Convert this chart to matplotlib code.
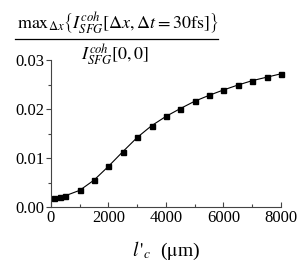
import matplotlib
matplotlib.use("Agg")
import matplotlib.pyplot as plt
from matplotlib.lines import Line2D
from matplotlib.ticker import MultipleLocator

plt.rcParams['font.family'] = ['Liberation Serif', 'DejaVu Serif']
plt.rcParams['mathtext.fontset'] = 'stix'

# coherence length l_c' (um) and normalised max SFG signal
lc = [100, 300, 500, 1000, 1500, 2000, 2500, 3000, 3500, 4000,
      4500, 5000, 5500, 6000, 6500, 7000, 7500, 8000]
ratio = [0.0018, 0.0020, 0.0023, 0.0034, 0.0055, 0.0083, 0.0113, 0.0142, 0.0166,
         0.0185, 0.0201, 0.0216, 0.0228, 0.0239, 0.0249, 0.0258, 0.0265, 0.0272]

fig = plt.figure(figsize=(3.07, 2.72), dpi=100)
ax = fig.add_axes([0.166, 0.239, 0.749, 0.54])

ax.plot(lc, ratio, color='black', lw=0.8, marker='s', ms=3.6,
        mec='black', mfc='black', clip_on=False)

ax.set_xlim(0, 8000)
ax.set_ylim(0, 0.03)
ax.xaxis.set_major_locator(MultipleLocator(2000))
ax.xaxis.set_minor_locator(MultipleLocator(1000))
ax.yaxis.set_major_locator(MultipleLocator(0.01))
ax.yaxis.set_minor_locator(MultipleLocator(0.005))
ax.yaxis.set_major_formatter(plt.FormatStrFormatter('%.2f'))

for s in ['top', 'right']:
    ax.spines[s].set_visible(False)
for s in ['left', 'bottom']:
    ax.spines[s].set_linewidth(0.8)
    ax.spines[s].set_color('#444444')

ax.tick_params(axis='x', which='both', direction='in', labelsize=12, pad=2)
ax.tick_params(axis='y', which='both', direction='out', labelsize=12, pad=1)
ax.tick_params(which='major', length=3.5, width=0.8, color='#444444')
ax.tick_params(which='minor', length=2, width=0.8, color='#444444')

ax.set_xlabel(r"$l\,'_c$  ($\mathrm{\mu}$m)", fontsize=14, labelpad=10)

# y label drawn as a fraction above the axes
fig.text(17 / 307, 1 - 28 / 272,
         r'$\mathrm{max}_{\Delta x}\left\{I^{coh}_{SFG}[\Delta x,\Delta t=30\mathrm{fs}]\right\}$',
         fontsize=13, ha='left', va='baseline')
fig.add_artist(Line2D([15 / 307, 218 / 307], [1 - 39 / 272, 1 - 39 / 272],
                      color='black', lw=0.9))
fig.text(115 / 307, 1 - 61 / 272, r'$I^{coh}_{SFG}[0,0]$',
         fontsize=13, ha='center', va='baseline')

fig.savefig('out.png', dpi=100)
